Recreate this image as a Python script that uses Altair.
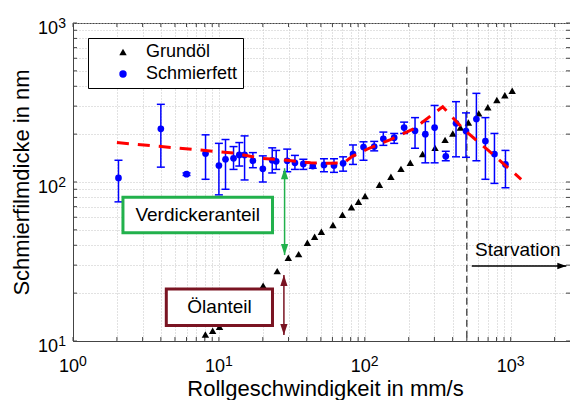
import altair as alt
import pandas as pd

# ---------------- data ----------------
# Schmierfett (grease): x in mm/s, y in nm, error bar low / high
fett_x = [2.05, 4.0, 6.0, 8.1, 10.0, 11.1, 12.6, 13.8, 15.0, 17.1, 20.0, 23.2, 24.7, 29.4, 33.2,
          37.9, 44.0, 52.5, 61.5, 71.0, 83.0, 98.0, 116, 134, 159, 186, 221, 260, 301, 359,
          422, 494, 582, 671, 774, 921]
fett_y = [106, 216, 112, 151, 127, 139, 141, 148, 148, 136, 121, 137, 135, 136, 132,
          130, 126, 128, 127, 131, 150, 166, 167, 187, 190, 220, 210, 200, 220, 145,
          234, 209, 249, 181, 150, 129]
fett_lo = [75, 124, 110, 104, 83, 90, 120, 126, 103, 123, 100, 114, 120, 116, 120,
           120, 122, 116, 115, 117, 129, 137, 157, 170, 175, 202, 163, 132, 132, 136,
           144, 143, 136, 104, 98, 92]
fett_hi = [137, 308, 114, 198, 175, 185, 167, 177, 195, 153, 146, 164, 158, 161, 147,
           139, 131, 140, 140, 144, 171, 179, 180, 206, 202, 238, 254, 240, 303, 156,
           320, 272, 361, 254, 202, 158]

# Grundöl (base oil)
oel_x = [8.08, 9.06, 10.1, 20.1, 25.1, 29.9, 35.2, 40.4, 45.3, 50.4, 60.5, 70.3, 81, 90.5, 100.5,
         126, 151, 177, 205, 249, 303, 355, 401, 452, 513, 604, 697, 804, 912, 1024]
oel_y = [11.0, 11.6, 12.3, 22.3, 27.5, 33.4, 35.2, 41.5, 45.3, 48.6, 53.7, 62.3, 69.3, 75.2, 81.7,
         96, 108, 121, 132, 150, 164, 184, 202, 220, 237, 270, 295, 328, 351, 375]

# red dashed trend line
fit_x = [2, 12.6, 19.3, 29.4, 42.5, 58, 72, 82, 96, 107, 150, 218, 299, 342, 482, 697, 1180]
fit_y = [177, 152, 141, 137, 132, 131, 132, 145, 155, 163, 185, 217, 271, 297, 212, 159, 104]

series = ["Grundöl", "Schmierfett"]

# axis ticks / labels
x_ticks = [1, 2, 3, 4, 5, 6, 7, 8, 9, 10, 20, 30, 40, 50, 60, 70, 80, 90,
           100, 200, 300, 400, 500, 600, 700, 800, 900, 1000, 2000]
y_ticks = [10, 20, 30, 40, 50, 60, 70, 80, 90, 100, 200, 300, 400, 500, 600, 700, 800, 900, 1000]
x_decades = [1, 10, 100, 1000]
x_exps = ["0", "1", "2", "3"]
y_decades = [10, 100, 1000]
y_exps = ["1", "2", "3"]

# annotations (data coordinates)
box_names = ["Verdickeranteil", "Ölanteil"]
box_x1 = [2.2, 4.36]
box_x2 = [23.3, 23.3]
box_y1 = [48.0, 12.5]
box_y2 = [80.2, 21.2]
box_tx = [7.16, 10.1]
box_ty = [61.9, 16.4]
box_cols = ["#22b14c", "#7a1422"]

arrow_x = [28.2, 27.9]          # green, dark red
arrow_top = [122, 26]
arrow_bot = [34.7, 10.9]

starv_y = 29.6
starv_x1, starv_x2 = 541, 2405
starv_text = ("Starvation", 1120, 37.3)
vline_x, vline_top, vline_bot = 500, 531, 10

# ---------------- chart ----------------
W, H = 497, 318
FONT = "Liberation Sans"
xs = alt.Scale(type="log", domain=[1, 2550], nice=False, padding=0)
ys = alt.Scale(type="log", domain=[10, 1000], nice=False, padding=0)

xaxis = alt.Axis(values=x_ticks, labels=False, ticks=False, tickSize=0, domainColor="#444444",
                 grid=True, gridColor="#c4c4c4", gridDash=[1, 2], gridWidth=1,
                 title="Rollgeschwindigkeit in mm/s", titleFontSize=22, titleFontWeight="normal",
                 titleColor="black", titleFont=FONT, titleX=252, titleY=54,
                 titleAlign="center", titleBaseline="alphabetic")
yaxis = alt.Axis(values=y_ticks, labels=False, ticks=False, tickSize=0, domainColor="#444444",
                 grid=True, gridColor="#c4c4c4", gridDash=[1, 2], gridWidth=1,
                 title="Schmierfilmdicke in nm", titleFontSize=22, titleFontWeight="normal",
                 titleColor="black", titleFont=FONT, titleX=-45, titleY=H / 2, titleAngle=270,
                 titleAlign="center", titleBaseline="alphabetic")


def X(f):
    return alt.X(f, type="quantitative", scale=xs, axis=xaxis)


def Y(f):
    return alt.Y(f, type="quantitative", scale=ys, axis=yaxis)


leg = alt.Legend(title=None, orient="none", legendX=15, legendY=15, strokeColor="black",
                 fillColor="white", padding=5, rowPadding=4, symbolOffset=21, labelOffset=14,
                 labelFontSize=18, labelColor="black", labelFont=FONT, symbolSize=55,
                 symbolStrokeWidth=0, cornerRadius=0)
color_enc = alt.Color("s:N", scale=alt.Scale(domain=series, range=["black", "#0000ff"]), legend=leg)
shape_enc = alt.Shape("s:N", scale=alt.Scale(domain=series, range=["triangle-up", "circle"]), legend=leg)

xt = pd.DataFrame({"v": x_ticks})
yt = pd.DataFrame({"v": y_ticks})
TC = "#444444"
tick_b = alt.Chart(xt).mark_rule(color=TC, strokeWidth=1).encode(x=X("v"), y=alt.value(H), y2=alt.value(H - 4))
tick_t = alt.Chart(xt).mark_rule(color=TC, strokeWidth=1).encode(x=X("v"), y=alt.value(0), y2=alt.value(4))
tick_l = alt.Chart(yt).mark_rule(color=TC, strokeWidth=1).encode(y=Y("v"), x=alt.value(0), x2=alt.value(4))
tick_r = alt.Chart(yt).mark_rule(color=TC, strokeWidth=1).encode(y=Y("v"), x=alt.value(W), x2=alt.value(W - 4))

vline = alt.Chart(pd.DataFrame({"x": [vline_x], "y1": [vline_top], "y2": [vline_bot]})).mark_rule(
    color="#555555", strokeWidth=1.5, strokeDash=[7, 4]).encode(x=X("x"), y=Y("y1"), y2="y2")

boxes_df = pd.DataFrame({"n": box_names, "x1": box_x1, "x2": box_x2, "y1": box_y1, "y2": box_y2,
                         "tx": box_tx, "ty": box_ty, "c": box_cols})
boxes = alt.Chart(boxes_df).mark_rect(fill="white", strokeWidth=3).encode(
    x=X("x1"), x2="x2", y=Y("y1"), y2="y2", stroke=alt.Color("c:N", scale=None))
box_text = alt.Chart(boxes_df).mark_text(fontSize=19, color="black", font=FONT).encode(
    x=X("tx"), y=Y("ty"), text="n:N")

arr_df = pd.DataFrame({"x": arrow_x, "top": arrow_top, "bot": arrow_bot, "c": box_cols})
arr_line = alt.Chart(arr_df).mark_rule(strokeWidth=1.5).encode(
    x=X("x"), y=Y("top"), y2="bot", color=alt.Color("c:N", scale=None))
head_up = alt.Chart(arr_df).mark_point(shape="M0,0L-0.33,1L0.33,1Z", filled=True, opacity=1,
                                        size=484, strokeWidth=0).encode(
    x=X("x"), y=Y("top"), color=alt.Color("c:N", scale=None))
head_dn = alt.Chart(arr_df).mark_point(shape="M0,0L-0.33,-1L0.33,-1Z", filled=True, opacity=1,
                                        size=484, strokeWidth=0).encode(
    x=X("x"), y=Y("bot"), color=alt.Color("c:N", scale=None))

st_df = pd.DataFrame({"x1": [starv_x1], "x2": [starv_x2], "y": [starv_y]})
st_line = alt.Chart(st_df).mark_rule(color="black", strokeWidth=1.5).encode(x=X("x1"), x2="x2", y=Y("y"))
st_head = alt.Chart(st_df).mark_point(shape="M0,0L-1,-0.36L-1,0.36Z", filled=True, opacity=1,
                                       size=324, strokeWidth=0, color="black").encode(x=X("x2"), y=Y("y"))
st_text = alt.Chart(pd.DataFrame({"t": [starv_text[0]], "x": [starv_text[1]], "y": [starv_text[2]]})).mark_text(
    fontSize=19, color="black", font=FONT).encode(x=X("x"), y=Y("y"), text="t:N")

oel_df = pd.DataFrame({"x": oel_x, "y": oel_y, "s": series[0]})
fett_df = pd.DataFrame({"x": fett_x, "y": fett_y, "lo": fett_lo, "hi": fett_hi, "s": series[1]})

oel = alt.Chart(oel_df).mark_point(filled=True, opacity=1, size=55, strokeWidth=0).encode(
    x=X("x"), y=Y("y"), color=color_enc, shape=shape_enc)
err = alt.Chart(fett_df).mark_rule(color="#0000ff", strokeWidth=1.5).encode(x=X("x"), y=Y("lo"), y2="hi")
cap_lo = alt.Chart(fett_df).mark_tick(color="#0000ff", orient="horizontal", size=8, thickness=1.5, opacity=1).encode(
    x=X("x"), y=Y("lo"))
cap_hi = alt.Chart(fett_df).mark_tick(color="#0000ff", orient="horizontal", size=8, thickness=1.5, opacity=1).encode(
    x=X("x"), y=Y("hi"))
fett = alt.Chart(fett_df).mark_point(filled=True, opacity=1, size=45, strokeWidth=0).encode(
    x=X("x"), y=Y("y"), color=color_enc, shape=shape_enc)

fit = alt.Chart(pd.DataFrame({"x": fit_x, "y": fit_y})).mark_line(
    color="#ff0000", strokeWidth=3, strokeDash=[12, 9]).encode(x=X("x"), y=Y("y"))

xl_df = pd.DataFrame({"v": x_decades, "e": x_exps})
yl_df = pd.DataFrame({"v": y_decades, "e": y_exps})
xlab = alt.Chart(xl_df).mark_text(fontSize=18, color="black", font=FONT, align="center", baseline="alphabetic",
                                  dx=-4, text="10").encode(x=X("v"), y=alt.value(H + 31))
xexp = alt.Chart(xl_df).mark_text(fontSize=14, color="black", font=FONT, align="left", baseline="alphabetic",
                                  dx=6).encode(x=X("v"), y=alt.value(H + 25), text="e:N")
ylab = alt.Chart(yl_df).mark_text(fontSize=18, color="black", font=FONT, align="right", baseline="alphabetic",
                                  dy=11, text="10").encode(y=Y("v"), x=alt.value(-15))
yexp = alt.Chart(yl_df).mark_text(fontSize=14, color="black", font=FONT, align="right", baseline="alphabetic",
                                  dy=5).encode(y=Y("v"), x=alt.value(-7), text="e:N")

chart = alt.layer(
    tick_b, tick_t, tick_l, tick_r, vline, oel, err, cap_lo, cap_hi, fett, fit,
    boxes, box_text, arr_line, head_up, head_dn, st_line, st_head, st_text,
    xlab, xexp, ylab, yexp
).properties(
    width=W, height=H,
    padding={"left": 65, "top": 15, "right": 0, "bottom": 59},
    autosize=alt.AutoSizeParams(type="none"),
).configure(font=FONT).configure_view(stroke="#444444", strokeWidth=1)

chart.save("out.html", embed_options={"renderer": "svg", "actions": False})
